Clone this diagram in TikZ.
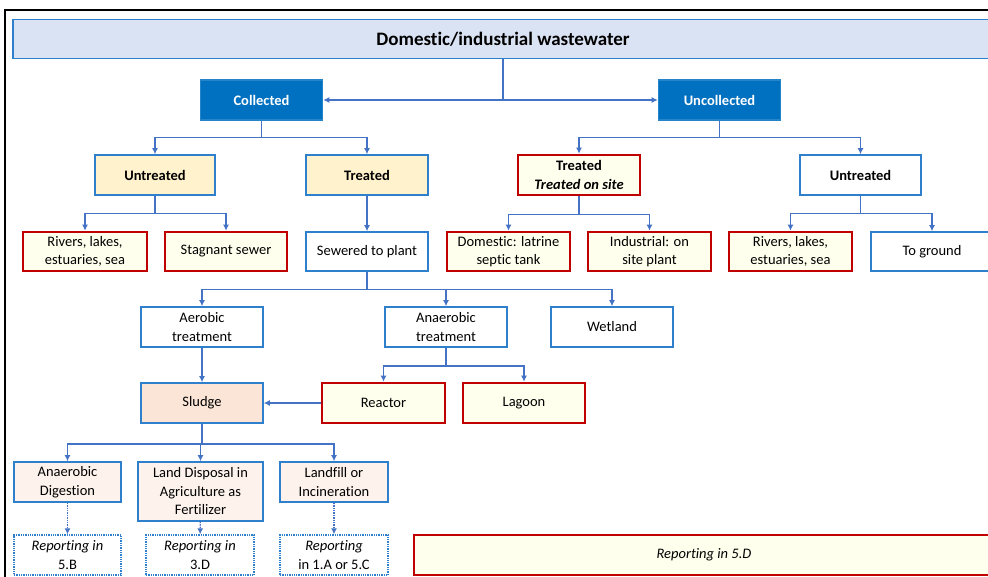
\documentclass[tikz,border=0pt]{standalone}
\usepackage{fontspec}
\setmainfont{Carlito}[Ligatures=NoCommon]
\usepackage{xcolor}
\usepackage{tikz}
\usetikzlibrary{arrows.meta}
\definecolor{linkblue}{RGB}{68,114,196}
\definecolor{edgeblue}{RGB}{46,128,205}
\definecolor{darkblue}{RGB}{0,112,192}
\definecolor{titlefill}{RGB}{218,227,243}
\definecolor{paleyellow}{RGB}{255,242,204}
\definecolor{cream}{RGB}{255,255,238}
\definecolor{darkred}{RGB}{192,0,0}
\definecolor{peach}{RGB}{251,229,214}
\definecolor{palepeach}{RGB}{253,243,236}
\newcommand{\boxsize}{\fontsize{14.5}{18.5}\selectfont}

\begin{document}
\begin{tikzpicture}[x=1pt, y=-1pt, >={Latex[length=6pt,width=6pt]},
  box/.style={draw=edgeblue, line width=1.6pt, fill=white, align=center,
    inner sep=2pt, minimum width=122pt, minimum height=40pt, font=\boxsize},
  boldbox/.style={box, font=\boxsize\bfseries},
  headbox/.style={boldbox, fill=darkblue, draw=darkblue!85!white, text=white},
  redbox/.style={box, draw=darkred, line width=2.6pt, fill=cream},
  reportbox/.style={box, line width=1.3pt, densely dotted, font=\boxsize\itshape},
  link/.style={draw=linkblue, line width=1.4pt},
  arr/.style={link, ->}]
  \useasboundingbox (0,0) rectangle (988,577);
  \draw[line width=1.8pt] (5,600) -- (5,10) -- (1000,10);

  \node[box, fill=titlefill, minimum width=980pt, minimum height=39pt,
    font=\fontsize{19}{22}\selectfont\bfseries] (wastewater) at (503,39) {Domestic/industrial wastewater};
  \node[headbox] (collected) at (261.5,100) {Collected};
  \node[headbox] (uncollected) at (719.5,100) {Uncollected};

  % collected side
  \node[boldbox, fill=paleyellow, minimum width=120pt] (untreatedA) at (155,175) {Untreated};
  \node[boldbox, fill=paleyellow] (treatedA) at (367,175) {Treated};
  \node[redbox, minimum width=124pt, minimum height=39pt] (riversA) at (85,251.5) {Rivers, lakes,\\estuaries, sea};
  \node[redbox, minimum height=39pt] (stagnant) at (226,251.5) {Stagnant sewer};
  \node[box, minimum height=39pt] (sewered) at (367,251.5) {Sewered to plant};

  % uncollected side
  \node[redbox] (treatedB) at (579,175) {\textbf{Treated}\\\textbf{\textit{Treated on site}}};
  \node[boldbox, minimum width=121pt] (untreatedB) at (860.5,175) {Untreated};
  \node[redbox, minimum width=123pt, minimum height=39pt] (latrine) at (508.5,251.5) {Domestic: latrine\\septic tank};
  \node[redbox, minimum width=123pt, minimum height=39pt] (onsite) at (649.5,251.5) {Industrial: on\\site plant};
  \node[redbox, minimum width=123pt, minimum height=39pt] (riversB) at (790.5,251.5) {Rivers, lakes,\\estuaries, sea};
  \node[box, minimum height=39pt] (ground) at (932,251.5) {To ground};

  % plant treatment
  \node[box] (aerobic) at (202,327) {Aerobic\\treatment};
  \node[box] (anaerobic) at (446,327) {Anaerobic\\treatment};
  \node[box] (wetland) at (612,327) {Wetland};
  \node[box, fill=peach] (sludge) at (202,403) {Sludge};
  \node[redbox, minimum width=123pt] (reactor) at (383.5,403) {Reactor};
  \node[redbox] (lagoon) at (524,403) {Lagoon};

  % sludge routes and reporting
  \node[box, fill=palepeach, minimum width=107pt] (digestion) at (67.5,482) {Anaerobic\\Digestion};
  \node[box, fill=palepeach, minimum width=125pt, minimum height=59pt] (landuse) at (200.5,491.5) {Land Disposal in\\Agriculture as\\Fertilizer};
  \node[box, fill=palepeach, minimum width=108pt] (landfill) at (334,482) {Landfill or\\Incineration};
  \node[reportbox, minimum width=107pt] (rep5B) at (67.5,555) {Reporting in\\\upshape 5.B};
  \node[reportbox, minimum width=108pt] (rep3D) at (200,555) {Reporting in\\\upshape 3.D};
  \node[reportbox, minimum width=108pt] (rep1A) at (334,555) {Reporting\\\upshape in 1.A or 5.C};
  \node[redbox, minimum width=580pt, font=\boxsize\itshape] (rep5D) at (704,555) {Reporting in 5.D};

  \draw[link] (wastewater.south) -- (wastewater.south |- collected.east);
  \draw[<->, link] (collected) -- (uncollected);
  \draw[arr] (collected.south) -- ++(0,17) -| (untreatedA.north);
  \draw[arr] (collected.south) -- ++(0,17) -| (treatedA.north);
  \draw[arr] (uncollected.south) -- ++(0,17) -| (treatedB.north);
  \draw[arr] (uncollected.south) -- ++(0,17) -| (untreatedB.north);
  \draw[arr] (untreatedA.south) -- ++(0,18) -| (riversA.north);
  \draw[arr] (untreatedA.south) -- ++(0,18) -| (stagnant.north);
  \draw[arr] (treatedA) -- (sewered);
  \draw[arr] (treatedB.south) -- ++(0,18) -| (latrine.north);
  \draw[arr] (treatedB.south) -- ++(0,18) -| (onsite.north);
  \draw[arr] (untreatedB.south) -- ++(0,18) -| (riversB.north);
  \draw[arr] (untreatedB.south) -- ++(0,18) -| (ground.north);
  \draw[arr] (sewered.south) -- ++(0,18) -| (aerobic.north);
  \draw[arr] (sewered.south) -- ++(0,18) -| (anaerobic.north);
  \draw[arr] (sewered.south) -- ++(0,18) -| (wetland.north);
  \draw[arr] (aerobic) -- (sludge);
  \draw[arr] (anaerobic.south) -- ++(0,18) -| (reactor.north);
  \draw[arr] (anaerobic.south) -- ++(0,18) -| (lagoon.north);
  \draw[arr] (reactor) -- (sludge);
  \draw[arr] (sludge.south) -- ++(0,20) -| (digestion.north);
  \draw[arr] (sludge.south) -- ++(0,20) -| (landuse.north);
  \draw[arr] (sludge.south) -- ++(0,20) -| (landfill.north);
  \draw[arr, densely dotted] (digestion) -- (rep5B);
  \draw[arr, densely dotted] (landuse) -- (rep3D);
  \draw[arr, densely dotted] (landfill) -- (rep1A);
\end{tikzpicture}
\end{document}
